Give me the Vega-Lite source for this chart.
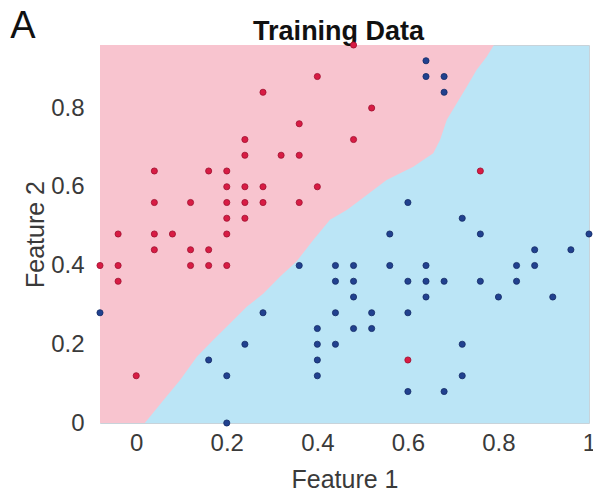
{
  "$schema": "https://vega.github.io/schema/vega-lite/v6.json",
  "autosize": "none",
  "width": 489,
  "height": 378,
  "padding": {"left": 100, "top": 45, "right": 4, "bottom": 76},
  "background": "white",
  "view": {"fill": "#BBE5F6", "stroke": "#C8D3DA", "strokeWidth": 1},
  "config": {
    "font": "Liberation Sans",
    "axis": {
      "labelFont": "Liberation Sans",
      "titleFont": "Liberation Sans",
      "labelFontSize": 24,
      "titleFontSize": 25,
      "labelColor": "#3a3a3a",
      "titleColor": "#3a3a3a",
      "titleFontWeight": "normal",
      "grid": false,
      "domain": false,
      "ticks": false
    }
  },
  "datasets": {
    "boundary": [
      {"f1": -0.08, "f2": 0.0},
      {"f1": 0.019, "f2": 0.0},
      {"f1": 0.06, "f2": 0.058},
      {"f1": 0.097, "f2": 0.109},
      {"f1": 0.134, "f2": 0.168},
      {"f1": 0.17, "f2": 0.211},
      {"f1": 0.207, "f2": 0.253},
      {"f1": 0.244, "f2": 0.295},
      {"f1": 0.281, "f2": 0.329},
      {"f1": 0.318, "f2": 0.372},
      {"f1": 0.354, "f2": 0.41},
      {"f1": 0.391, "f2": 0.465},
      {"f1": 0.428, "f2": 0.516},
      {"f1": 0.465, "f2": 0.541},
      {"f1": 0.494, "f2": 0.566},
      {"f1": 0.553, "f2": 0.617},
      {"f1": 0.612, "f2": 0.651},
      {"f1": 0.656, "f2": 0.685},
      {"f1": 0.671, "f2": 0.719},
      {"f1": 0.686, "f2": 0.77},
      {"f1": 0.708, "f2": 0.812},
      {"f1": 0.73, "f2": 0.854},
      {"f1": 0.752, "f2": 0.897},
      {"f1": 0.774, "f2": 0.93},
      {"f1": 0.79, "f2": 0.96}
    ],
    "training": [
      {"f1": 0.40, "f2": 0.88, "cls": "red"},
      {"f1": 0.28, "f2": 0.84, "cls": "red"},
      {"f1": 0.36, "f2": 0.76, "cls": "red"},
      {"f1": 0.24, "f2": 0.72, "cls": "red"},
      {"f1": 0.24, "f2": 0.68, "cls": "red"},
      {"f1": 0.32, "f2": 0.68, "cls": "red"},
      {"f1": 0.36, "f2": 0.68, "cls": "red"},
      {"f1": 0.04, "f2": 0.64, "cls": "red"},
      {"f1": 0.16, "f2": 0.64, "cls": "red"},
      {"f1": 0.20, "f2": 0.64, "cls": "red"},
      {"f1": 0.20, "f2": 0.60, "cls": "red"},
      {"f1": 0.24, "f2": 0.60, "cls": "red"},
      {"f1": 0.28, "f2": 0.60, "cls": "red"},
      {"f1": 0.40, "f2": 0.60, "cls": "red"},
      {"f1": 0.04, "f2": 0.56, "cls": "red"},
      {"f1": 0.12, "f2": 0.56, "cls": "red"},
      {"f1": 0.20, "f2": 0.56, "cls": "red"},
      {"f1": 0.24, "f2": 0.56, "cls": "red"},
      {"f1": 0.28, "f2": 0.56, "cls": "red"},
      {"f1": 0.36, "f2": 0.56, "cls": "red"},
      {"f1": 0.20, "f2": 0.52, "cls": "red"},
      {"f1": 0.24, "f2": 0.52, "cls": "red"},
      {"f1": -0.04, "f2": 0.48, "cls": "red"},
      {"f1": 0.04, "f2": 0.48, "cls": "red"},
      {"f1": 0.08, "f2": 0.48, "cls": "red"},
      {"f1": 0.20, "f2": 0.48, "cls": "red"},
      {"f1": 0.04, "f2": 0.44, "cls": "red"},
      {"f1": 0.12, "f2": 0.44, "cls": "red"},
      {"f1": 0.16, "f2": 0.44, "cls": "red"},
      {"f1": -0.08, "f2": 0.40, "cls": "red"},
      {"f1": -0.04, "f2": 0.40, "cls": "red"},
      {"f1": 0.12, "f2": 0.40, "cls": "red"},
      {"f1": 0.16, "f2": 0.40, "cls": "red"},
      {"f1": 0.20, "f2": 0.40, "cls": "red"},
      {"f1": -0.04, "f2": 0.36, "cls": "red"},
      {"f1": 0.00, "f2": 0.12, "cls": "red"},
      {"f1": 0.48, "f2": 0.96, "cls": "red"},
      {"f1": 0.52, "f2": 0.80, "cls": "red"},
      {"f1": 0.48, "f2": 0.72, "cls": "red"},
      {"f1": 0.76, "f2": 0.64, "cls": "red"},
      {"f1": 0.60, "f2": 0.16, "cls": "red"},
      {"f1": 0.64, "f2": 0.92, "cls": "blue"},
      {"f1": 0.64, "f2": 0.88, "cls": "blue"},
      {"f1": 0.68, "f2": 0.88, "cls": "blue"},
      {"f1": 0.68, "f2": 0.84, "cls": "blue"},
      {"f1": 0.60, "f2": 0.56, "cls": "blue"},
      {"f1": 0.72, "f2": 0.52, "cls": "blue"},
      {"f1": 0.56, "f2": 0.48, "cls": "blue"},
      {"f1": 0.76, "f2": 0.48, "cls": "blue"},
      {"f1": 1.00, "f2": 0.48, "cls": "blue"},
      {"f1": 0.88, "f2": 0.44, "cls": "blue"},
      {"f1": 0.96, "f2": 0.44, "cls": "blue"},
      {"f1": 0.36, "f2": 0.40, "cls": "blue"},
      {"f1": 0.44, "f2": 0.40, "cls": "blue"},
      {"f1": 0.48, "f2": 0.40, "cls": "blue"},
      {"f1": 0.56, "f2": 0.40, "cls": "blue"},
      {"f1": 0.64, "f2": 0.40, "cls": "blue"},
      {"f1": 0.84, "f2": 0.40, "cls": "blue"},
      {"f1": 0.88, "f2": 0.40, "cls": "blue"},
      {"f1": 0.44, "f2": 0.36, "cls": "blue"},
      {"f1": 0.48, "f2": 0.36, "cls": "blue"},
      {"f1": 0.60, "f2": 0.36, "cls": "blue"},
      {"f1": 0.64, "f2": 0.36, "cls": "blue"},
      {"f1": 0.68, "f2": 0.36, "cls": "blue"},
      {"f1": 0.76, "f2": 0.36, "cls": "blue"},
      {"f1": 0.84, "f2": 0.36, "cls": "blue"},
      {"f1": 0.48, "f2": 0.32, "cls": "blue"},
      {"f1": 0.64, "f2": 0.32, "cls": "blue"},
      {"f1": 0.80, "f2": 0.32, "cls": "blue"},
      {"f1": 0.92, "f2": 0.32, "cls": "blue"},
      {"f1": -0.08, "f2": 0.28, "cls": "blue"},
      {"f1": 0.28, "f2": 0.28, "cls": "blue"},
      {"f1": 0.44, "f2": 0.28, "cls": "blue"},
      {"f1": 0.52, "f2": 0.28, "cls": "blue"},
      {"f1": 0.60, "f2": 0.28, "cls": "blue"},
      {"f1": 0.40, "f2": 0.24, "cls": "blue"},
      {"f1": 0.48, "f2": 0.24, "cls": "blue"},
      {"f1": 0.52, "f2": 0.24, "cls": "blue"},
      {"f1": 0.24, "f2": 0.20, "cls": "blue"},
      {"f1": 0.40, "f2": 0.20, "cls": "blue"},
      {"f1": 0.44, "f2": 0.20, "cls": "blue"},
      {"f1": 0.72, "f2": 0.20, "cls": "blue"},
      {"f1": 0.16, "f2": 0.16, "cls": "blue"},
      {"f1": 0.40, "f2": 0.16, "cls": "blue"},
      {"f1": 0.20, "f2": 0.12, "cls": "blue"},
      {"f1": 0.40, "f2": 0.12, "cls": "blue"},
      {"f1": 0.72, "f2": 0.12, "cls": "blue"},
      {"f1": 0.60, "f2": 0.08, "cls": "blue"},
      {"f1": 0.68, "f2": 0.08, "cls": "blue"},
      {"f1": 0.20, "f2": 0.00, "cls": "blue"}
    ],
    "panel": [{"tag": "A"}],
    "heading": [{"text": "Training Data"}]
  },
  "layer": [
    {
      "data": {"name": "boundary"},
      "mark": {"type": "area", "color": "#F8C4CF", "opacity": 1, "clip": true},
      "encoding": {
        "x": {
          "field": "f1",
          "type": "quantitative",
          "scale": {"domain": [-0.08, 1.0], "nice": false, "zero": false},
          "axis": {
            "title": "Feature 1",
            "values": [0, 0.2, 0.4, 0.6, 0.8, 1],
            "format": "~g",
            "labelPadding": 8,
            "titlePadding": 12,
            "labelFlush": false
          }
        },
        "y": {
          "field": "f2",
          "type": "quantitative",
          "scale": {"domain": [0, 0.96], "nice": false, "zero": false},
          "axis": {
            "title": "Feature 2",
            "values": [0, 0.2, 0.4, 0.6, 0.8],
            "format": "~g",
            "labelPadding": 16,
            "titlePadding": 2,
            "labelFlush": false
          }
        },
        "y2": {"datum": 0.96}
      }
    },
    {
      "data": {"name": "heading"},
      "mark": {"type": "text", "font": "Liberation Sans", "fontSize": 27, "fontWeight": "bold", "color": "#111111", "align": "center", "baseline": "alphabetic", "clip": false},
      "encoding": {
        "text": {"field": "text"},
        "x": {"datum": 0.447},
        "y": {"datum": 0.9727}
      }
    },
    {
      "data": {"name": "training"},
      "mark": {"type": "point", "filled": true, "shape": "circle", "size": 38, "strokeWidth": 0.8, "opacity": 1, "clip": false},
      "encoding": {
        "x": {"field": "f1", "type": "quantitative"},
        "y": {"field": "f2", "type": "quantitative"},
        "fill": {
          "field": "cls",
          "type": "nominal",
          "scale": {"domain": ["red", "blue"], "range": ["#D81C44", "#21418F"]},
          "legend": null
        },
        "stroke": {
          "field": "cls",
          "type": "nominal",
          "scale": {"domain": ["red", "blue"], "range": ["#9E1030", "#142B66"]},
          "legend": null
        }
      }
    },
    {
      "data": {"name": "panel"},
      "mark": {"type": "text", "font": "Liberation Sans", "fontSize": 38, "color": "#111111", "align": "center", "baseline": "alphabetic", "clip": false},
      "encoding": {
        "text": {"field": "tag"},
        "x": {"datum": -0.25},
        "y": {"datum": 0.978}
      }
    }
  ]
}
